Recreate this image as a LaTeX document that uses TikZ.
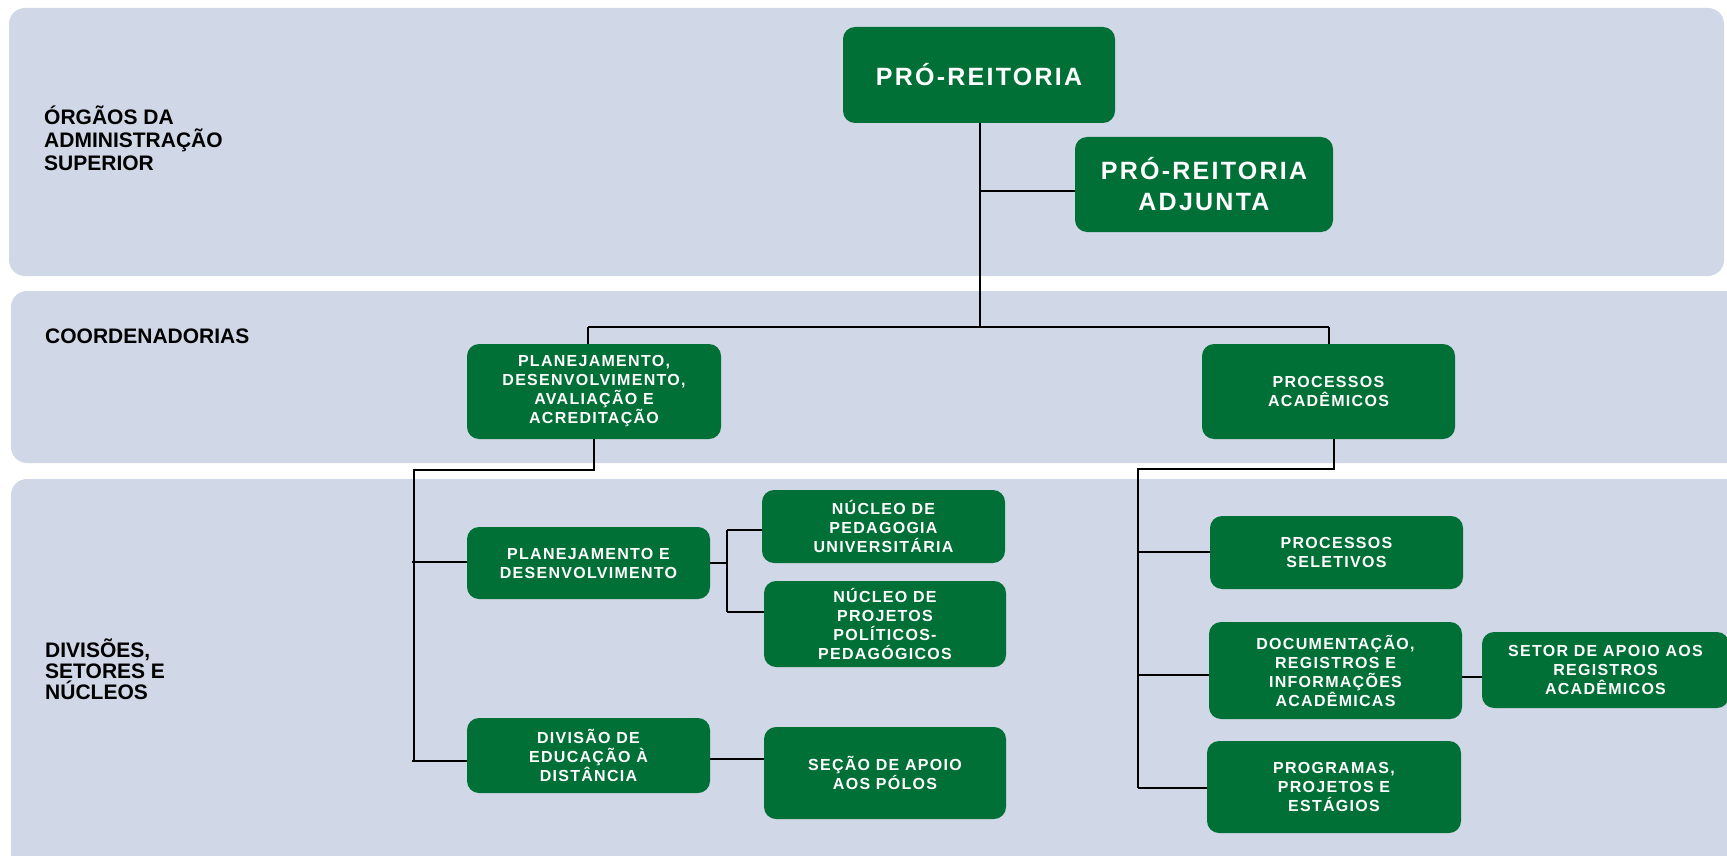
\documentclass[tikz,border=0pt]{standalone}
\usepackage{fontspec}
\setmainfont{Liberation Sans}
\newfontfamily\boxfont{Liberation Sans}[LetterSpace=8]
\newfontfamily\bigfont{Liberation Sans}[LetterSpace=9]
\definecolor{bandc}{HTML}{D0D8E7}
\definecolor{grn}{HTML}{007036}
\tikzset{
  band/.style={fill=bandc, draw=none, rounded corners=16pt},
  gbox/.style={fill=grn, draw=none, rounded corners=12pt, text=white, align=center, inner sep=0pt,
    font=\boxfont\bfseries\fontsize{16}{19}\selectfont},
  bigbox/.style={gbox, font=\bigfont\bfseries\fontsize{25}{31}\selectfont},
  lab/.style={anchor=base west, align=left, inner sep=0pt, text=black},
  conn/.style={draw=black, line width=2pt}
}
\begin{document}
\begin{tikzpicture}[x=1pt, y=-1pt]
\useasboundingbox (0,0) rectangle (1727,856);
\fill[white] (0,0) rectangle (1727,856);
% bands
\path[band] (9,8) rectangle (1724,276);
\path[band] (11,291) rectangle (1750,463);
\path[band] (11,479) rectangle (1750,880);
% band labels (base = baseline of the last line)
\node[lab, font=\bfseries\fontsize{21}{23}\selectfont] (l1) at (44,171) {ÓRGÃOS DA\\ADMINISTRAÇÃO\\SUPERIOR};
\node[lab, font=\bfseries\fontsize{21}{23}\selectfont] (l2) at (45,343) {COORDENADORIAS};
\node[lab, font=\bfseries\fontsize{21}{21}\selectfont] (l3) at (45,699) {DIVISÕES,\\SETORES E\\NÚCLEOS};
% boxes
\node[bigbox, minimum width=272pt, minimum height=96pt] (pr) at (979,75) {PRÓ-REITORIA};
\node[bigbox, minimum width=258pt, minimum height=95pt] (pra) at (1204,184.5) {PRÓ-REITORIA\\ADJUNTA};
\node[gbox, minimum width=254pt, minimum height=95pt] (pdaa) at (594,391.5) {PLANEJAMENTO,\\DESENVOLVIMENTO,\\AVALIAÇÃO E\\ACREDITAÇÃO};
\node[gbox, minimum width=253pt, minimum height=95pt] (pa) at (1328.5,391.5) {PROCESSOS\\ACADÊMICOS};
\node[gbox, minimum width=243pt, minimum height=72pt] (ped) at (588.5,563) {PLANEJAMENTO E\\DESENVOLVIMENTO};
\node[gbox, minimum width=243pt, minimum height=73pt] (npu) at (883.5,526.5) {NÚCLEO DE\\PEDAGOGIA\\UNIVERSITÁRIA};
\node[gbox, minimum width=242pt, minimum height=86pt] (nppp) at (885,624) {NÚCLEO DE\\PROJETOS\\POLÍTICOS-\\PEDAGÓGICOS};
\node[gbox, minimum width=243pt, minimum height=75pt] (div) at (588.5,755.5) {DIVISÃO DE\\EDUCAÇÃO À\\DISTÂNCIA};
\node[gbox, minimum width=242pt, minimum height=92pt] (sap) at (885,773) {SEÇÃO DE APOIO\\AOS PÓLOS};
\node[gbox, minimum width=253pt, minimum height=73pt] (ps) at (1336.5,552.5) {PROCESSOS\\SELETIVOS};
\node[gbox, minimum width=253pt, minimum height=97pt] (doc) at (1335.5,670.5) {DOCUMENTAÇÃO,\\REGISTROS E\\INFORMAÇÕES\\ACADÊMICAS};
\node[gbox, minimum width=247pt, minimum height=76pt] (setor) at (1605.5,670) {SETOR DE APOIO AOS\\REGISTROS\\ACADÊMICOS};
\node[gbox, minimum width=254pt, minimum height=92pt] (prog) at (1334,787) {PROGRAMAS,\\PROJETOS E\\ESTÁGIOS};
% junction coordinates
\coordinate (a1) at (980,327);
\coordinate (a2) at (980,191);
\coordinate (a3) at (588,327);
\coordinate (a4) at (1329,327);
\coordinate (b1) at (594,470);
\coordinate (b2) at (414,470);
\coordinate (b3) at (414,762);
\coordinate (c1) at (412,562);
\coordinate (c2) at (412,761);
\coordinate (d1) at (737,759);
\coordinate (e0) at (727,563);
\coordinate (e1) at (727,530);
\coordinate (e2) at (727,612);
\coordinate (f1) at (1334,469);
\coordinate (f2) at (1138,469);
\coordinate (f3) at (1138,788);
\coordinate (g1) at (1138,552);
\coordinate (g2) at (1138,675);
\coordinate (h1) at (1470,677);
% connectors
\draw[conn] (pr.south -| a1) -- (a1);
\draw[conn] (a2) -- (a2 -| pra.west);
\draw[conn] (a3) -- (a4);
\draw[conn] (a3) -- (a3 |- pdaa.north);
\draw[conn] (a4) -- (a4 |- pa.north);
\draw[conn] (pdaa.south -| b1) -- (b1) -- (b2) -- (b3);
\draw[conn] (c1) -- (c1 -| ped.west);
\draw[conn] (c2) -- (c2 -| div.west);
\draw[conn] (d1 -| div.east) -- (d1 -| sap.west);
\draw[conn] (e0 -| ped.east) -- (e0);
\draw[conn] (e1) -- (e2);
\draw[conn] (e1) -- (e1 -| npu.west);
\draw[conn] (e2) -- (e2 -| nppp.west);
\draw[conn] (pa.south -| f1) -- (f1) -- (f2) -- (f3);
\draw[conn] (g1) -- (g1 -| ps.west);
\draw[conn] (g2) -- (g2 -| doc.west);
\draw[conn] (f3) -- (f3 -| prog.west);
\draw[conn] (h1 -| doc.east) -- (h1 -| setor.west);
\end{tikzpicture}
\end{document}
